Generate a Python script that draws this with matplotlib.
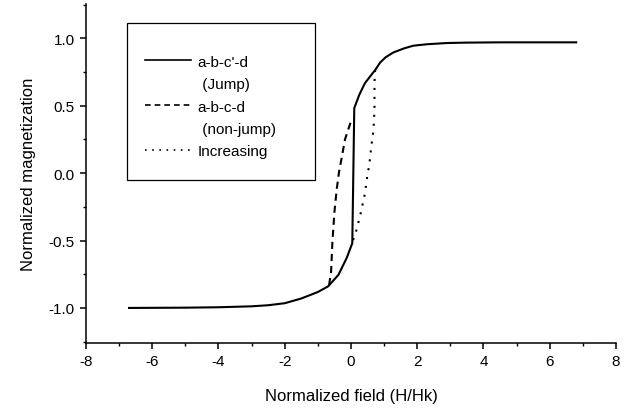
import matplotlib.pyplot as plt
from matplotlib.lines import Line2D
from matplotlib.patches import Rectangle
from matplotlib.ticker import MultipleLocator

plt.rcParams['font.family'] = ['Liberation Sans', 'DejaVu Sans']
plt.rcParams['axes.unicode_minus'] = False

# jump branch a-b-c'-d (solid)
jump_h = [-6.7, -5.0, -4.0, -3.0, -2.5, -2.0, -1.5, -1.0, -0.69, -0.38, -0.13, 0.04,
          0.10, 0.25, 0.42, 0.73, 0.88, 1.05, 1.28, 1.6, 1.88, 2.3, 2.9, 3.5, 4.5, 5.5, 6.8]
jump_m = [-1.0, -0.998, -0.995, -0.988, -0.98, -0.965, -0.93, -0.882, -0.84, -0.755, -0.63, -0.52,
          0.483, 0.58, 0.667, 0.765, 0.82, 0.86, 0.895, 0.925, 0.945, 0.956, 0.965, 0.968, 0.97, 0.97, 0.97]

# non-jump branch a-b-c-d (dashed)
nonjump_h = [-0.66, -0.6, -0.56, -0.5, -0.43, -0.36, -0.29, -0.18, 0.02]
nonjump_m = [-0.83, -0.73, -0.51, -0.29, -0.12, 0.01, 0.10, 0.25, 0.40]

# increasing field (dotted)
incr_h = [0.73, 0.71, 0.71, 0.68, 0.61, 0.55, 0.50, 0.42, 0.30, 0.17, 0.06]
incr_m = [0.765, 0.667, 0.47, 0.32, 0.19, 0.054, -0.007, -0.154, -0.29, -0.42, -0.50]

fig = plt.figure(figsize=(6.35, 4.1), dpi=100)
ax = fig.add_axes([0.1354, 0.161, 0.8346, 0.827])

ax.plot(jump_h, jump_m, color='black', lw=1.5)
ax.plot(nonjump_h, nonjump_m, color='black', lw=1.5, dashes=(3.4, 2.4))
ax.plot(incr_h, incr_m, color='black', lw=1.5, dashes=(1, 3.3))

ax.set_xlim(-8, 8)
ax.set_ylim(-1.26, 1.255)
ax.xaxis.set_major_locator(MultipleLocator(2))
ax.xaxis.set_minor_locator(MultipleLocator(1))
ax.yaxis.set_major_locator(MultipleLocator(0.5))
ax.yaxis.set_minor_locator(MultipleLocator(0.25))
ax.yaxis.set_major_formatter(lambda v, p: f'{v:.1f}')

ax.spines['top'].set_visible(False)
ax.spines['right'].set_visible(False)
for s in ['left', 'bottom']:
    ax.spines[s].set_linewidth(1.1)
ax.tick_params(which='major', direction='out', length=4.5, width=1.1, labelsize=11)
ax.tick_params(which='minor', direction='out', length=2.5, width=1.0)

ax.set_xlabel('Normalized field (H/Hk)', fontsize=12, labelpad=14)
ax.set_ylabel('Normalized magnetization', fontsize=12, labelpad=9)

# legend: frame drawn separately so its size matches
ax.add_patch(Rectangle((0.077, 0.481), 0.355, 0.463, transform=ax.transAxes,
                       fill=False, edgecolor='black', lw=0.9))
blank = Line2D([], [], linestyle='none')
handles = [Line2D([], [], color='black', lw=1.2), blank,
           Line2D([], [], color='black', lw=1.2, dashes=(3.4, 2.4)), blank,
           Line2D([], [], color='black', lw=1.2, dashes=(1, 3.3))]
labels = ["a-b-c'-d", ' (Jump)', 'a-b-c-d', ' (non-jump)', 'Increasing']
ax.legend(handles, labels, loc='upper left', bbox_to_anchor=(0.077, 0.904),
          frameon=False, fontsize=11, handlelength=3.0, handletextpad=0.45,
          labelspacing=0.55, borderpad=1.2, borderaxespad=0)

fig.savefig('out.png', dpi=100)
